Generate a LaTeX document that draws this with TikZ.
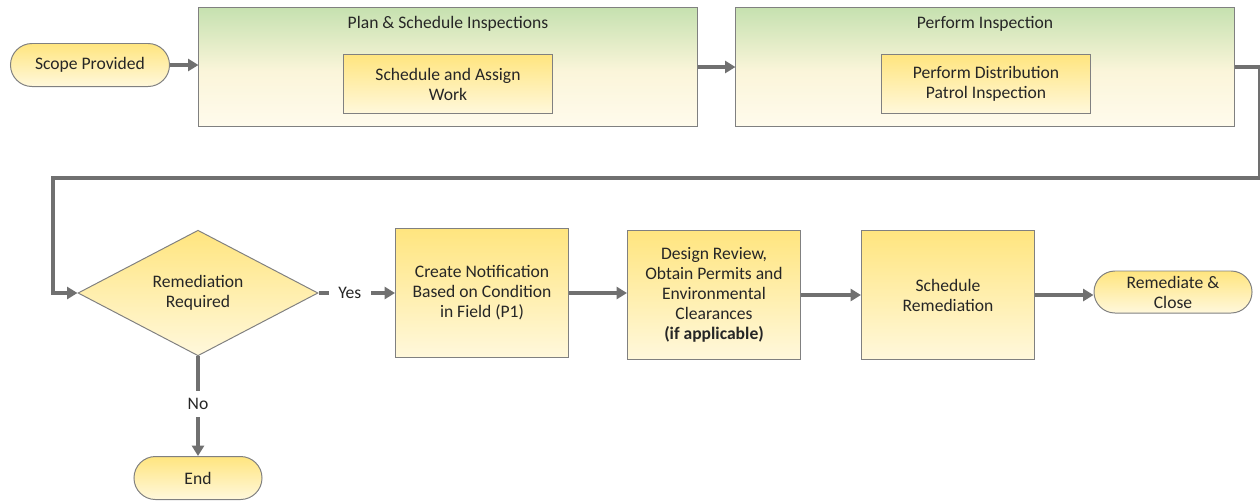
\documentclass[tikz,border=0pt]{standalone}
\usepackage{fontspec}
\setmainfont{Carlito}
\usetikzlibrary{arrows.meta,shapes.geometric,shapes.misc}
\definecolor{boxtop}{HTML}{FFE57F}
\definecolor{boxbot}{HTML}{FFF8DC}
\definecolor{phtop}{HTML}{C6E1B0}
\definecolor{phmid}{HTML}{FBF5DA}
\definecolor{phbot}{HTML}{FFFBEC}
\definecolor{edgegray}{HTML}{808080}
\definecolor{flowgray}{HTML}{707070}
\definecolor{ink}{HTML}{262626}
\pgfdeclareverticalshading{phaseshade}{100bp}{color(0bp)=(phbot); color(25bp)=(phbot);
  color(48bp)=(phmid); color(75bp)=(phtop); color(100bp)=(phtop)}

\begin{document}
\begin{tikzpicture}[x=0.025cm,y=-0.025cm,font=\fontsize{12.5}{14.2}\selectfont,text=ink,
  >={Triangle[length=2.6mm,width=3mm]},
  task/.style={draw=edgegray,line width=.7pt,top color=boxtop,bottom color=boxbot,
    align=center,inner sep=0pt},
  phase/.style={draw=edgegray,line width=.7pt,shading=phaseshade,
    inner sep=0pt,minimum width=12.45cm,minimum height=2.95cm},
  terminal/.style={task,rounded rectangle,minimum height=1.075cm},
  flow/.style={draw=flowgray,line width=2.2pt,->},
  answer/.style={fill=white,inner xsep=7pt,inner ysep=5pt}]
  \useasboundingbox (0,0) rectangle (1260,502);
  \node[terminal,minimum width=3.975cm] (scope) at (90,65) {Scope Provided};
  \node[phase] (plan) at (448,67) {};
  \node (plantitle) at (448,24) {Plan \& Schedule Inspections};
  \node[task,minimum width=5.225cm,minimum height=1.475cm] (assign) at (448,84)
    {Schedule and Assign\\Work};
  \node[phase] (insp) at (985,67) {};
  \node (insptitle) at (985,24) {Perform Inspection};
  \node[task,minimum width=5.2cm,minimum height=1.475cm] (patrol) at (986,84)
    {Perform Distribution\\Patrol Inspection};
  \node[task,diamond,minimum width=6cm,minimum height=3.075cm] (check) at (198,293)
    {Remediation\\Required};
  \node[task,minimum width=4.325cm,minimum height=3.225cm] (notif) at (482,293)
    {Create Notification\\Based on Condition\\in Field (P1)};
  \node[task,minimum width=4.325cm,minimum height=3.225cm] (design) at (714,295)
    {Design Review,\\Obtain Permits and\\Environmental\\Clearances\\\textbf{(if applicable)}};
  \node[task,minimum width=4.325cm,minimum height=3.225cm] (remsched) at (948,295)
    {Schedule\\Remediation};
  \node[terminal,minimum width=3.95cm,minimum height=1.05cm] (close) at (1173,292)
    {Remediate \&\\Close};
  \node[terminal,minimum width=3.2cm] (end) at (198,478) {End};
  \draw[flow] (scope.east) -- (scope.east -| plan.west);
  \draw[flow] (plan.east) -- (insp.west);
  \draw[flow] (insp.east) -- ++(25,0) |- (53,178) |- (check.west);
  \draw[flow] (check.east) -- node[answer,pos=.41] {Yes} (notif.west);
  \draw[flow] (check.south) -- node[answer,pos=.48] {No} (end.north);
  \draw[flow] (notif.east) -- (notif.east -| design.west);
  \draw[flow] (design.east) -- (remsched.west);
  \draw[flow] (remsched.east) -- (remsched.east -| close.west);
\end{tikzpicture}
\end{document}
